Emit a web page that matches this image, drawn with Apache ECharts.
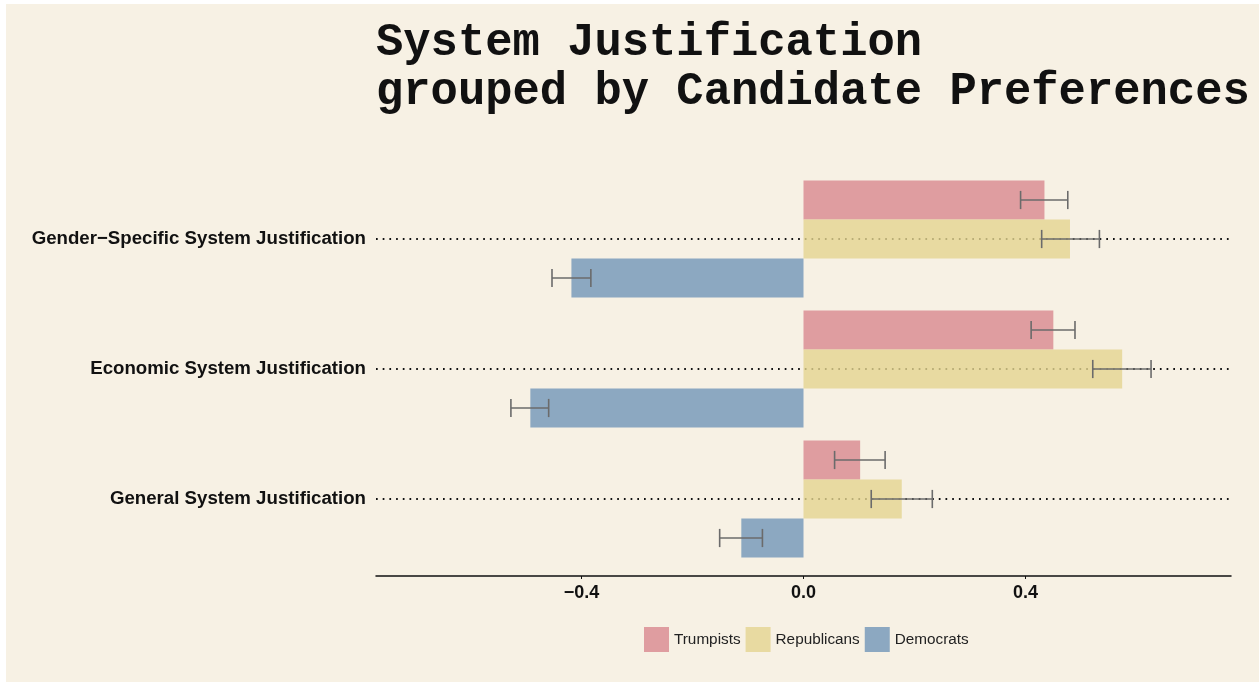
<!DOCTYPE html>
<html>
<head>
<meta charset="utf-8">
<script src="https://cdn.jsdelivr.net/npm/echarts@6/dist/echarts.min.js"></script>
<style>
html,body{margin:0;padding:0;background:#ffffff;}
#chart{width:1259px;height:682px;}
</style>
</head>
<body>
<div id="chart"></div>
<script>
// Categories, bottom to top on the y axis
var categories = ['General System Justification', 'Economic System Justification', 'Gender\u2212Specific System Justification'];
var seriesNames = ['Trumpists', 'Republicans', 'Democrats'];

var trumpists = [0.102, 0.450, 0.434];
var trumpistsLow = [0.056, 0.410, 0.391];
var trumpistsHigh = [0.147, 0.489, 0.476];

var republicans = [0.177, 0.574, 0.480];
var republicansLow = [0.122, 0.521, 0.429];
var republicansHigh = [0.232, 0.626, 0.533];

var democrats = [-0.112, -0.492, -0.418];
var democratsLow = [-0.151, -0.527, -0.453];
var democratsHigh = [-0.074, -0.459, -0.383];

var xTickValues = [-0.4, 0, 0.4];
var xMin = -0.77, xMax = 0.77;

var chart = echarts.init(document.getElementById('chart'), null, {renderer: 'canvas'});

function gridLineRender(params, api) {
  var p1 = api.coord([xMin, api.value(0)]);
  var p2 = api.coord([xMax, api.value(0)]);
  return {
    type: 'line',
    shape: {x1: p1[0], y1: p1[1], x2: p2[0], y2: p2[1]},
    style: {stroke: '#111111', lineWidth: 1.8, lineDash: [1.7, 5.0]}
  };
}

function makeErrorRender(offsetFrac) {
  return function (params, api) {
    var cat = api.value(0);
    var lo = api.coord([api.value(1), cat]);
    var hi = api.coord([api.value(2), cat]);
    var band = api.size([0, 1])[1];
    var y = lo[1] + offsetFrac * band;
    var h = band * 0.07;
    var st = {stroke: '#6b6b6b', lineWidth: 1.6};
    return {
      type: 'group',
      children: [
        {type: 'line', shape: {x1: lo[0], y1: y, x2: hi[0], y2: y}, style: st},
        {type: 'line', shape: {x1: lo[0], y1: y - h, x2: lo[0], y2: y + h}, style: st},
        {type: 'line', shape: {x1: hi[0], y1: y - h, x2: hi[0], y2: y + h}, style: st}
      ]
    };
  };
}

function errData(lo, hi) {
  return lo.map(function (v, i) { return [i, v, hi[i]]; });
}

var colors = {Trumpists: '#D8888F', Republicans: '#E3D590', Democrats: '#7196B8'};

var option = {
  backgroundColor: '#ffffff',
  animation: false,
  graphic: [{
    type: 'rect', z: -10, silent: true,
    shape: {x: 6, y: 4, width: 1253, height: 678},
    style: {fill: '#F7F1E4'}
  }],
  title: {
    text: 'System Justification\ngrouped by Candidate Preferences',
    left: 376, top: 19, padding: 0,
    textStyle: {fontFamily: 'Liberation Mono', fontWeight: 'bold', fontSize: 45.5, lineHeight: 49, color: '#111111'}
  },
  legend: {
    data: seriesNames,
    left: 644, top: 627, padding: 0,
    itemWidth: 25, itemHeight: 25, itemGap: 5,
    icon: 'rect',
    textStyle: {fontFamily: 'Liberation Sans', fontSize: 15.3, color: '#222222'}
  },
  grid: {left: 376, right: 28, top: 174, bottom: 118, containLabel: false},
  xAxis: {
    type: 'value', min: xMin, max: xMax, offset: 12,
    axisLine: {show: true, lineStyle: {color: '#111111', width: 1.5}},
    axisTick: {show: true, length: 3, customValues: xTickValues, lineStyle: {color: '#111111'}},
    axisLabel: {
      customValues: xTickValues, margin: 8,
      fontFamily: 'Liberation Sans', fontWeight: 'bold', fontSize: 18, color: '#111111',
      formatter: function (v) { return (v < 0 ? '\u2212' : '') + Math.abs(v).toFixed(1); }
    },
    splitLine: {show: false}
  },
  yAxis: {
    type: 'category', data: categories,
    axisLine: {show: false}, axisTick: {show: false},
    axisLabel: {margin: 10, padding: [4, 0, 0, 0], fontFamily: 'Liberation Sans', fontWeight: 'bold', fontSize: 18.67, color: '#111111'},
    splitLine: {show: false}
  },
  series: [
    {type: 'custom', name: 'grid', z: 1, silent: true, renderItem: gridLineRender,
     data: categories.map(function (c, i) { return [i]; }), encode: {y: 0}},
    {type: 'bar', name: 'Trumpists', data: trumpists, barGap: '0%', barCategoryGap: '10%', z: 2,
     itemStyle: {color: colors.Trumpists, opacity: 0.8}},
    {type: 'bar', name: 'Republicans', data: republicans, barGap: '0%', barCategoryGap: '10%', z: 2,
     itemStyle: {color: colors.Republicans, opacity: 0.8}},
    {type: 'bar', name: 'Democrats', data: democrats, barGap: '0%', barCategoryGap: '10%', z: 2,
     itemStyle: {color: colors.Democrats, opacity: 0.8}},
    {type: 'custom', name: 'errT', z: 3, silent: true, renderItem: makeErrorRender(-0.3),
     data: errData(trumpistsLow, trumpistsHigh), encode: {y: 0, x: [1, 2]}},
    {type: 'custom', name: 'errR', z: 3, silent: true, renderItem: makeErrorRender(0),
     data: errData(republicansLow, republicansHigh), encode: {y: 0, x: [1, 2]}},
    {type: 'custom', name: 'errD', z: 3, silent: true, renderItem: makeErrorRender(0.3),
     data: errData(democratsLow, democratsHigh), encode: {y: 0, x: [1, 2]}}
  ]
};
chart.setOption(option);
</script>
</body>
</html>
